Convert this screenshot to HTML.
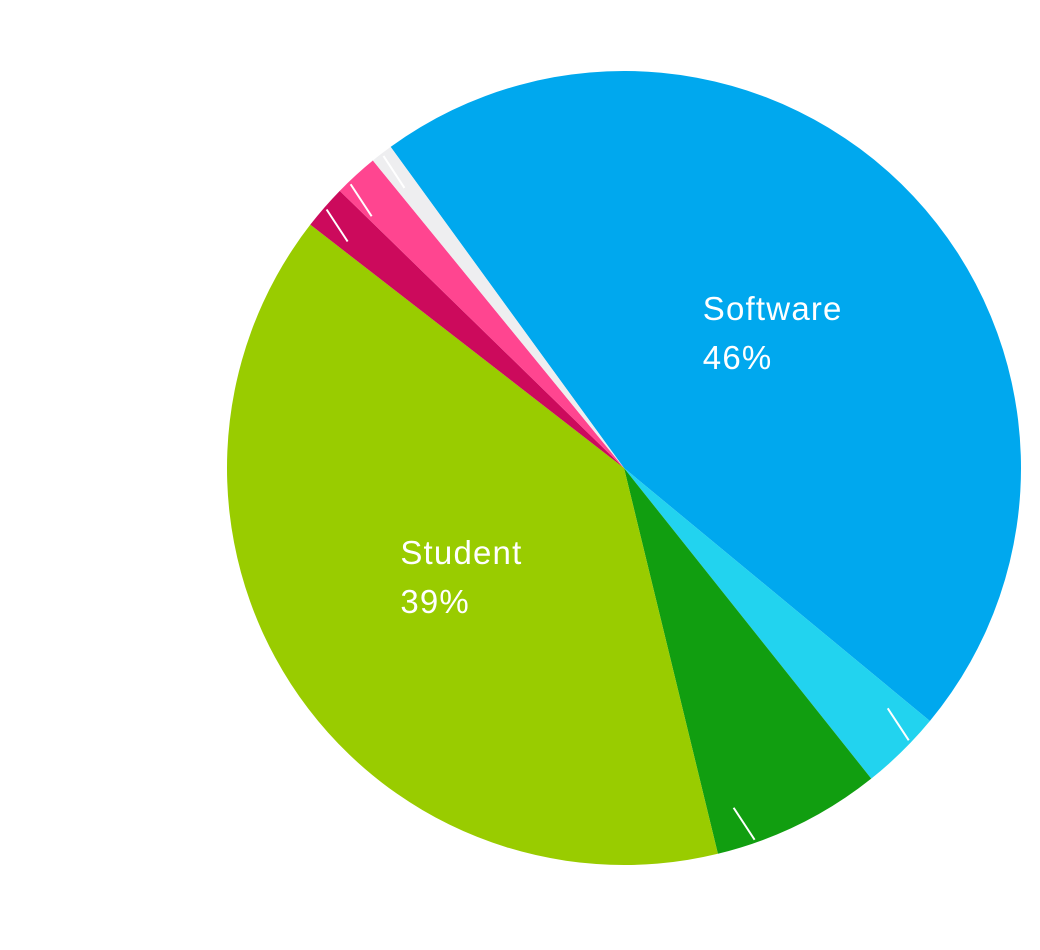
<!DOCTYPE html>
<html><head><meta charset="utf-8"><style>
html,body{margin:0;padding:0;background:#fff;}
svg{display:block;font-family:"Liberation Sans",sans-serif;}
</style></head><body>
<svg id="chart" width="1040" height="950" viewBox="0 0 1040 950"></svg>
<script>
const categories = ["Software","Other A","Other B","Student","Other C","Other D","Other E"];
const values = [46, 3.3, 6.9, 39.3, 1.8, 1.8, 0.9];
const showLabel = [true,false,false,true,false,false,false];
const colors = ["#00a8ee","#22d3ef","#119e10","#99cc00","#cc0a5c","#ff4590","#eeeef0"];
const tickFrac = [0.5,0.35,0.77,0.5,0.5,0.28,0.5];
const cx=624, cy=468, R=397, startDeg=324;
const NS="http://www.w3.org/2000/svg";
const svg=document.getElementById('chart');
const total=values.reduce((a,b)=>a+b,0);
function pt(deg,r){const a=deg*Math.PI/180;return [cx+r*Math.sin(a), cy-r*Math.cos(a)];}
let acc=startDeg;
const labelG=document.createElementNS(NS,'g');
svg.appendChild(labelG);
const ux=21/38, uy=32/38;
values.forEach((v,i)=>{
  const sweep=v/total*360, a0=acc, a1=acc+sweep; acc=a1;
  const p0=pt(a0,R), p1=pt(a1,R);
  const path=document.createElementNS(NS,'path');
  path.setAttribute('d',`M${cx},${cy} L${p0[0]},${p0[1]} A${R},${R} 0 ${sweep>180?1:0} 1 ${p1[0]},${p1[1]} Z`);
  path.setAttribute('fill',colors[i]);
  
  
  svg.insertBefore(path,labelG);
  const mid=(a0+a1)/2;
  if(showLabel[i]){
    const c=pt(mid,R*0.5);
    const t=document.createElementNS(NS,'text');
    t.setAttribute('fill','#fff');t.setAttribute('font-size','33');t.setAttribute('letter-spacing','1.2');
    t.textContent=categories[i];
    
    
    labelG.appendChild(t);
    const w=t.getComputedTextLength();
    const lx=c[0]-w/2+4;
    t.setAttribute('x',lx);t.setAttribute('y',c[1]-12);
    const t2=document.createElementNS(NS,'text');
    t2.setAttribute('fill','#fff');t2.setAttribute('font-size','33');t2.setAttribute('letter-spacing','1.2');
    t2.setAttribute('x',lx);t2.setAttribute('y',c[1]+37);
    t2.textContent=Math.round(v)+'%';
    
    
    labelG.appendChild(t2);
  } else {
    const ta=a0+sweep*tickFrac[i];
    const e=pt(ta,R-2);
    const s=(e[1]>cy)?-1:1;
    const q1=[e[0]+s*ux*1,e[1]+s*uy*1];
    const q0=[q1[0]+s*ux*38,q1[1]+s*uy*38];
    const l=document.createElementNS(NS,'line');
    l.setAttribute('x1',q0[0]);l.setAttribute('y1',q0[1]);l.setAttribute('x2',q1[0]);l.setAttribute('y2',q1[1]);
    l.setAttribute('stroke','#fff');l.setAttribute('stroke-width','2');
    
    
    labelG.appendChild(l);
  }
});
</script>
</body></html>
